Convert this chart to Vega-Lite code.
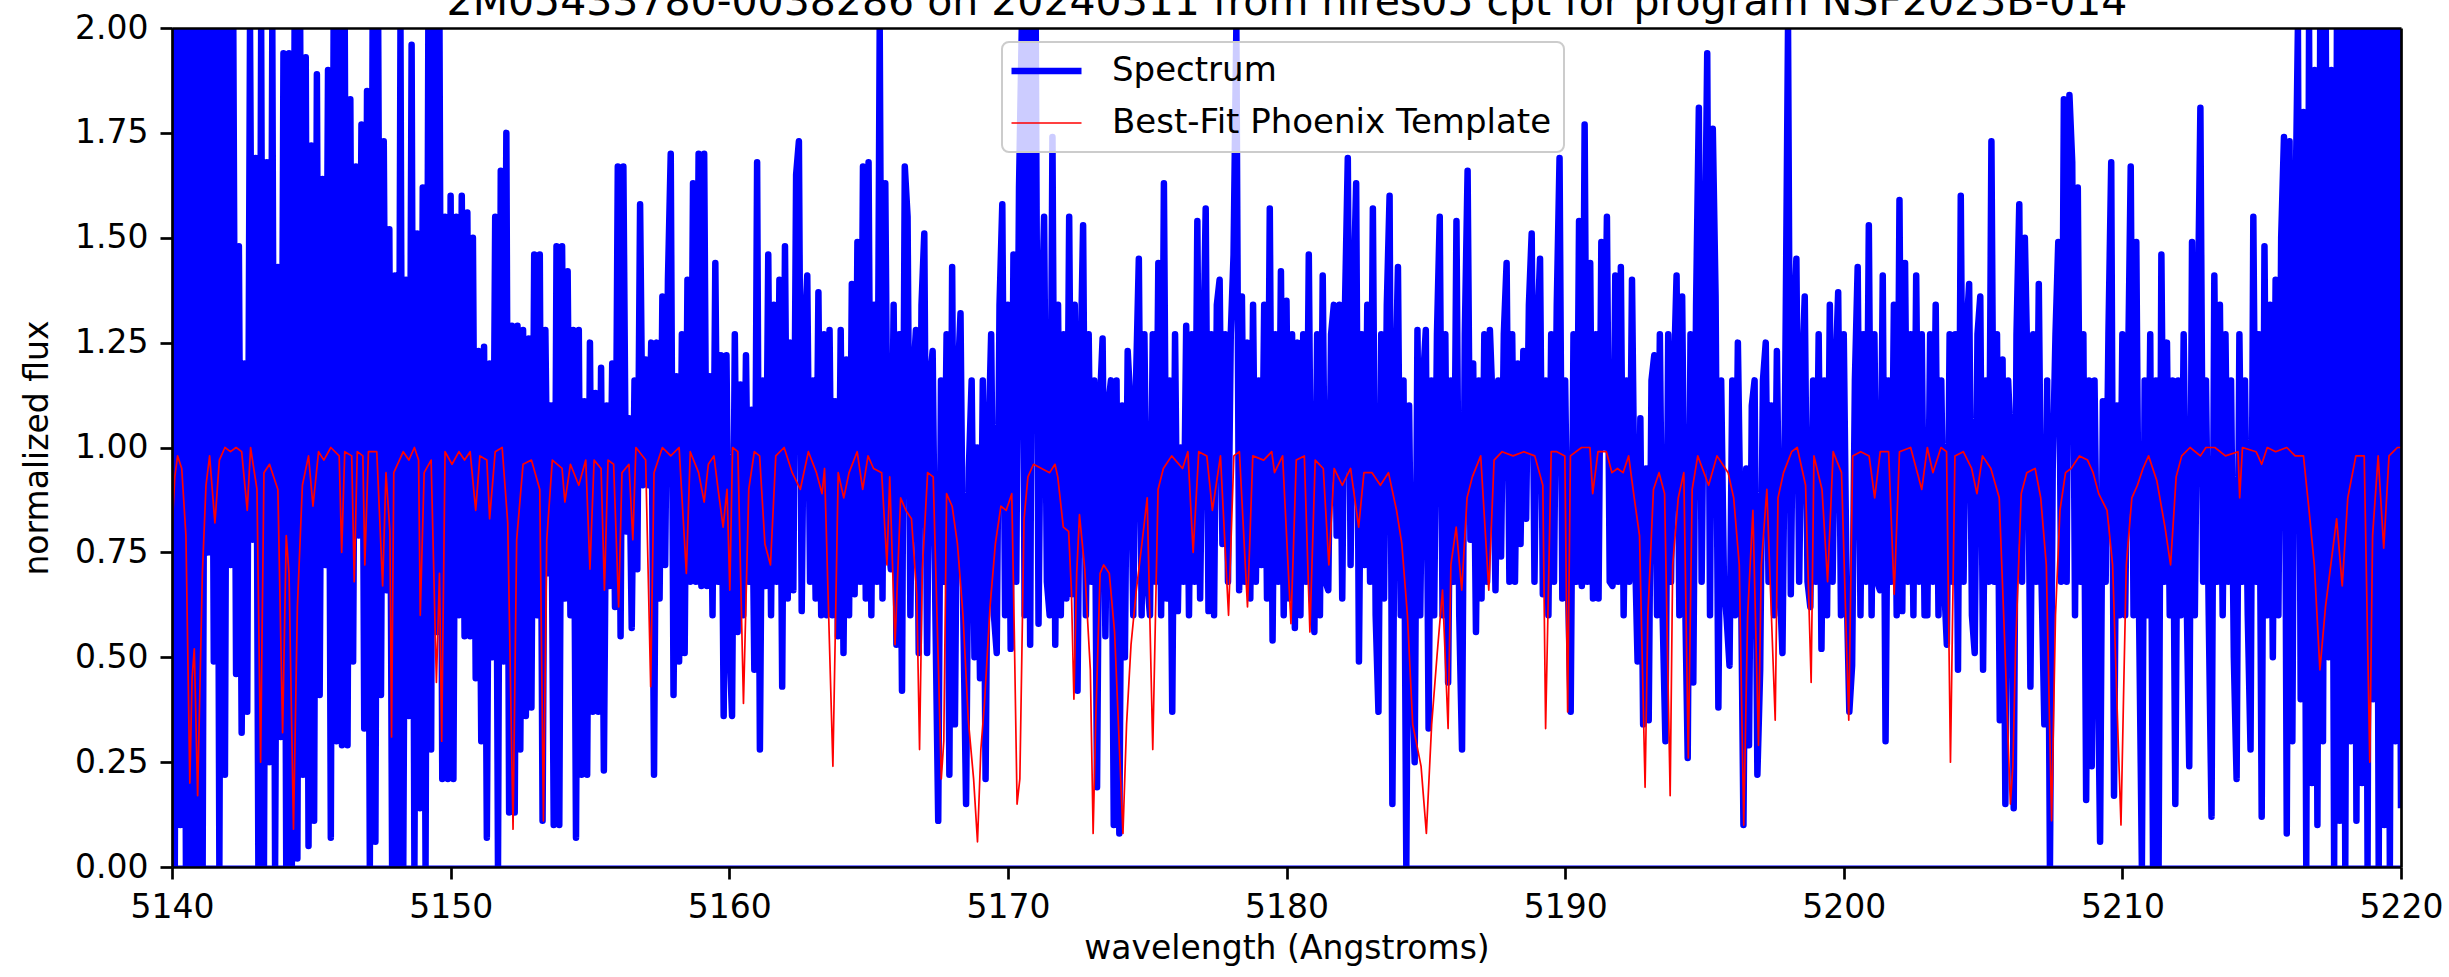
{
"$schema": "https://vega.github.io/schema/vega-lite/v6.json",
"width": 2229, "height": 839,
"autosize": {"type": "none"},
"padding": {"left": 172, "top": 28, "right": 48, "bottom": 110},
"background": "white",
"config": {"font": "DejaVu Sans", "view": {"stroke": null}},
"datasets": {
"spec": [
{"w":5140.0,"f":2.4},{"w":5140.1,"f":0},{"w":5140.2,"f":2.3},{"w":5140.3,"f":0.1},{"w":5140.4,"f":2.5},{"w":5140.5,"f":0},{"w":5140.6,"f":2.2},{"w":5140.7,"f":0},{"w":5140.8,"f":2.4},{"w":5140.9,"f":0},
{"w":5141.0,"f":2.3},{"w":5141.1,"f":0},{"w":5141.2,"f":2.5},{"w":5141.3,"f":0.75},{"w":5141.4,"f":2.2},{"w":5141.5,"f":0.49},{"w":5141.6,"f":2.4},{"w":5141.7,"f":0},{"w":5141.8,"f":2.3},{"w":5141.9,"f":0.22},
{"w":5142.0,"f":2.2},{"w":5142.1,"f":0.72},{"w":5142.2,"f":2.3},{"w":5142.3,"f":0.46},{"w":5142.4,"f":1.48},{"w":5142.5,"f":0.32},{"w":5142.6,"f":1.2},{"w":5142.7,"f":0.37},{"w":5142.8,"f":2.4},{"w":5142.9,"f":0.78},
{"w":5143.0,"f":1.69},{"w":5143.1,"f":0},{"w":5143.2,"f":2.3},{"w":5143.3,"f":0},{"w":5143.4,"f":1.68},{"w":5143.5,"f":0.25},{"w":5143.6,"f":2.2},{"w":5143.7,"f":0},{"w":5143.8,"f":1.43},{"w":5143.9,"f":0.31},
{"w":5144.0,"f":1.94},{"w":5144.1,"f":0},{"w":5144.2,"f":1.94},{"w":5144.3,"f":0},{"w":5144.4,"f":2.3},{"w":5144.5,"f":0.02},{"w":5144.6,"f":2.2},{"w":5144.7,"f":0.22},{"w":5144.8,"f":1.93},{"w":5144.9,"f":0.05},
{"w":5145.0,"f":1.72},{"w":5145.1,"f":0.11},{"w":5145.2,"f":1.89},{"w":5145.3,"f":0.41},{"w":5145.4,"f":1.64},{"w":5145.5,"f":0.72},{"w":5145.6,"f":1.9},{"w":5145.7,"f":0.07},{"w":5145.8,"f":2.3},{"w":5145.9,"f":0.3},
{"w":5146.0,"f":2.2},{"w":5146.1,"f":0.29},{"w":5146.2,"f":2.4},{"w":5146.3,"f":0.29},{"w":5146.4,"f":1.83},{"w":5146.5,"f":0.49},{"w":5146.6,"f":1.67},{"w":5146.7,"f":0.79},{"w":5146.8,"f":1.77},{"w":5146.9,"f":0.33},
{"w":5147.0,"f":1.85},{"w":5147.1,"f":0},{"w":5147.2,"f":2.3},{"w":5147.3,"f":0.06},{"w":5147.4,"f":2.2},{"w":5147.5,"f":0.41},{"w":5147.6,"f":1.73},{"w":5147.7,"f":0.66},{"w":5147.8,"f":1.52},{"w":5147.9,"f":0},
{"w":5148.0,"f":1.41},{"w":5148.1,"f":0},{"w":5148.2,"f":2.3},{"w":5148.3,"f":0},{"w":5148.4,"f":1.4},{"w":5148.5,"f":0.36},{"w":5148.6,"f":1.96},{"w":5148.7,"f":0},{"w":5148.8,"f":1.51},{"w":5148.9,"f":0.14},
{"w":5149.0,"f":1.62},{"w":5149.1,"f":0},{"w":5149.2,"f":2.3},{"w":5149.3,"f":0.28},{"w":5149.4,"f":2.2},{"w":5149.5,"f":0.56},{"w":5149.6,"f":2.4},{"w":5149.7,"f":0.21},{"w":5149.8,"f":1.55},{"w":5149.9,"f":0.21},
{"w":5150.0,"f":1.6},{"w":5150.1,"f":0.21},{"w":5150.2,"f":1.55},{"w":5150.3,"f":0.6},{"w":5150.4,"f":1.6},{"w":5150.5,"f":0.55},{"w":5150.6,"f":1.56},{"w":5150.7,"f":0.55},{"w":5150.8,"f":1.5},{"w":5150.9,"f":0.45},
{"w":5151.0,"f":1.23},{"w":5151.1,"f":0.3},{"w":5151.2,"f":1.24},{"w":5151.3,"f":0.07},{"w":5151.4,"f":1.2},{"w":5151.5,"f":0.5},{"w":5151.6,"f":1.55},{"w":5151.7,"f":0},{"w":5151.8,"f":1.66},{"w":5151.9,"f":0.49},
{"w":5152.0,"f":1.75},{"w":5152.1,"f":0.13},{"w":5152.2,"f":1.29},{"w":5152.3,"f":0.13},{"w":5152.4,"f":1.29},{"w":5152.5,"f":0.28},{"w":5152.6,"f":1.28},{"w":5152.7,"f":0.36},{"w":5152.8,"f":1.26},{"w":5152.9,"f":0.38},
{"w":5153.0,"f":1.46},{"w":5153.1,"f":0.6},{"w":5153.2,"f":1.46},{"w":5153.3,"f":0.11},{"w":5153.4,"f":1.28},{"w":5153.5,"f":0.7},{"w":5153.6,"f":1.1},{"w":5153.7,"f":0.1},{"w":5153.8,"f":1.48},{"w":5153.9,"f":0.1},
{"w":5154.0,"f":1.48},{"w":5154.1,"f":0.64},{"w":5154.2,"f":1.42},{"w":5154.3,"f":0.6},{"w":5154.4,"f":1.28},{"w":5154.5,"f":0.07},{"w":5154.6,"f":1.28},{"w":5154.7,"f":0.22},{"w":5154.8,"f":1.11},{"w":5154.9,"f":0.22},
{"w":5155.0,"f":1.25},{"w":5155.1,"f":0.37},{"w":5155.2,"f":1.13},{"w":5155.3,"f":0.37},{"w":5155.4,"f":1.19},{"w":5155.5,"f":0.23},{"w":5155.6,"f":1.1},{"w":5155.7,"f":0.67},{"w":5155.8,"f":1.2},{"w":5155.9,"f":0.62},
{"w":5156.0,"f":1.67},{"w":5156.1,"f":0.55},{"w":5156.2,"f":1.67},{"w":5156.3,"f":0.8},{"w":5156.4,"f":1.07},{"w":5156.5,"f":0.57},{"w":5156.6,"f":1.16},{"w":5156.7,"f":0.71},{"w":5156.8,"f":1.58},{"w":5156.9,"f":0.91},
{"w":5157.0,"f":1.21},{"w":5157.1,"f":0.91},{"w":5157.2,"f":1.25},{"w":5157.3,"f":0.22},{"w":5157.4,"f":1.25},{"w":5157.5,"f":0.64},{"w":5157.6,"f":1.36},{"w":5157.7,"f":0.72},{"w":5157.8,"f":1.4},{"w":5157.9,"f":1.7},
{"w":5158.0,"f":0.41},{"w":5158.1,"f":1.17},{"w":5158.2,"f":0.49},{"w":5158.3,"f":1.27},{"w":5158.4,"f":0.51},{"w":5158.5,"f":1.4},{"w":5158.6,"f":0.68},{"w":5158.7,"f":1.63},{"w":5158.8,"f":0.68},{"w":5158.9,"f":1.7},
{"w":5159.0,"f":0.67},{"w":5159.1,"f":1.7},{"w":5159.2,"f":0.67},{"w":5159.3,"f":1.17},{"w":5159.4,"f":0.6},{"w":5159.5,"f":1.44},{"w":5159.6,"f":0.68},{"w":5159.7,"f":1.22},{"w":5159.8,"f":0.36},{"w":5159.9,"f":1.22},
{"w":5160.0,"f":0.55},{"w":5160.1,"f":0.36},{"w":5160.2,"f":1.27},{"w":5160.3,"f":0.56},{"w":5160.4,"f":1.15},{"w":5160.5,"f":0.6},{"w":5160.6,"f":1.22},{"w":5160.7,"f":0.68},{"w":5160.8,"f":1.09},{"w":5160.9,"f":0.47},
{"w":5161.0,"f":1.68},{"w":5161.1,"f":0.28},{"w":5161.2,"f":1.16},{"w":5161.3,"f":0.67},{"w":5161.4,"f":1.46},{"w":5161.5,"f":0.6},{"w":5161.6,"f":1.34},{"w":5161.7,"f":0.68},{"w":5161.8,"f":1.4},{"w":5161.9,"f":0.43},
{"w":5162.0,"f":1.48},{"w":5162.1,"f":0.64},{"w":5162.2,"f":1.25},{"w":5162.3,"f":0.66},{"w":5162.4,"f":1.65},{"w":5162.5,"f":1.73},{"w":5162.6,"f":0.61},{"w":5162.7,"f":1.27},{"w":5162.8,"f":1.41},{"w":5162.9,"f":0.68},
{"w":5163.0,"f":1.16},{"w":5163.1,"f":0.64},{"w":5163.2,"f":1.37},{"w":5163.3,"f":0.6},{"w":5163.4,"f":1.27},{"w":5163.5,"f":0.6},{"w":5163.6,"f":1.28},{"w":5163.7,"f":0.6},{"w":5163.8,"f":1.11},{"w":5163.9,"f":0.55},
{"w":5164.0,"f":1.28},{"w":5164.1,"f":0.51},{"w":5164.2,"f":1.21},{"w":5164.3,"f":0.6},{"w":5164.4,"f":1.39},{"w":5164.5,"f":0.65},{"w":5164.6,"f":1.49},{"w":5164.7,"f":0.68},{"w":5164.8,"f":1.67},{"w":5164.9,"f":0.64},
{"w":5165.0,"f":1.68},{"w":5165.1,"f":0.6},{"w":5165.2,"f":1.34},{"w":5165.3,"f":0.68},{"w":5165.4,"f":2.3},{"w":5165.5,"f":0.64},{"w":5165.6,"f":1.63},{"w":5165.7,"f":0.78},{"w":5165.8,"f":0.71},{"w":5165.9,"f":1.34},
{"w":5166.0,"f":0.53},{"w":5166.1,"f":1.27},{"w":5166.2,"f":0.42},{"w":5166.3,"f":1.67},{"w":5166.4,"f":1.55},{"w":5166.5,"f":0.6},{"w":5166.6,"f":1.16},{"w":5166.7,"f":1.28},{"w":5166.8,"f":0.51},{"w":5166.9,"f":1.34},
{"w":5167.0,"f":1.51},{"w":5167.1,"f":0.51},{"w":5167.2,"f":1.16},{"w":5167.3,"f":1.23},{"w":5167.4,"f":0.6},{"w":5167.5,"f":0.11},{"w":5167.6,"f":1.16},{"w":5167.7,"f":0.68},{"w":5167.8,"f":1.27},{"w":5167.9,"f":0.22},
{"w":5168.0,"f":1.43},{"w":5168.1,"f":0.34},{"w":5168.2,"f":1.16},{"w":5168.3,"f":1.32},{"w":5168.4,"f":0.6},{"w":5168.5,"f":0.15},{"w":5168.6,"f":0.95},{"w":5168.7,"f":1.16},{"w":5168.8,"f":0.5},{"w":5168.9,"f":1.0},
{"w":5169.0,"f":0.45},{"w":5169.1,"f":1.16},{"w":5169.2,"f":0.21},{"w":5169.3,"f":1.0},{"w":5169.4,"f":1.27},{"w":5169.5,"f":0.6},{"w":5169.6,"f":0.51},{"w":5169.7,"f":1.34},{"w":5169.8,"f":1.58},{"w":5169.9,"f":0.6},
{"w":5170.0,"f":1.34},{"w":5170.1,"f":0.52},{"w":5170.2,"f":1.46},{"w":5170.3,"f":0.68},{"w":5170.4,"f":1.62},{"w":5170.5,"f":2.3},{"w":5170.6,"f":0.6},{"w":5170.7,"f":2.2},{"w":5170.8,"f":0.53},{"w":5170.9,"f":2.4},
{"w":5171.0,"f":2.2},{"w":5171.1,"f":0.58},{"w":5171.2,"f":1.27},{"w":5171.3,"f":1.55},{"w":5171.4,"f":0.68},{"w":5171.5,"f":0.6},{"w":5171.6,"f":1.74},{"w":5171.7,"f":0.53},{"w":5171.8,"f":1.34},{"w":5171.9,"f":0.6},
{"w":5172.0,"f":1.27},{"w":5172.1,"f":0.64},{"w":5172.2,"f":1.55},{"w":5172.3,"f":0.65},{"w":5172.4,"f":1.34},{"w":5172.5,"f":0.42},{"w":5172.6,"f":1.16},{"w":5172.7,"f":1.53},{"w":5172.8,"f":0.6},{"w":5172.9,"f":1.27},
{"w":5173.0,"f":0.68},{"w":5173.1,"f":1.16},{"w":5173.2,"f":0.19},{"w":5173.3,"f":1.1},{"w":5173.4,"f":1.26},{"w":5173.5,"f":0.55},{"w":5173.6,"f":1.1},{"w":5173.7,"f":1.16},{"w":5173.8,"f":0.1},{"w":5173.9,"f":1.16},
{"w":5174.0,"f":0.08},{"w":5174.1,"f":1.1},{"w":5174.2,"f":0.5},{"w":5174.3,"f":1.23},{"w":5174.4,"f":1.1},{"w":5174.5,"f":0.6},{"w":5174.6,"f":1.16},{"w":5174.7,"f":1.45},{"w":5174.8,"f":0.6},{"w":5174.9,"f":1.27},
{"w":5175.0,"f":0.68},{"w":5175.1,"f":0.6},{"w":5175.2,"f":1.27},{"w":5175.3,"f":0.68},{"w":5175.4,"f":1.44},{"w":5175.5,"f":0.6},{"w":5175.6,"f":1.63},{"w":5175.7,"f":0.64},{"w":5175.8,"f":1.16},{"w":5175.9,"f":0.37},
{"w":5176.0,"f":1.27},{"w":5176.1,"f":0.61},{"w":5176.2,"f":1.0},{"w":5176.3,"f":0.68},{"w":5176.4,"f":1.29},{"w":5176.5,"f":0.6},{"w":5176.6,"f":1.27},{"w":5176.7,"f":0.68},{"w":5176.8,"f":1.54},{"w":5176.9,"f":0.64},
{"w":5177.0,"f":1.16},{"w":5177.1,"f":1.57},{"w":5177.2,"f":0.61},{"w":5177.3,"f":1.27},{"w":5177.4,"f":0.6},{"w":5177.5,"f":1.34},{"w":5177.6,"f":1.4},{"w":5177.7,"f":0.77},{"w":5177.8,"f":1.27},{"w":5177.9,"f":0.68},
{"w":5178.0,"f":1.27},{"w":5178.1,"f":1.46},{"w":5178.2,"f":2.3},{"w":5178.3,"f":0.66},{"w":5178.4,"f":1.36},{"w":5178.5,"f":0.68},{"w":5178.6,"f":1.25},{"w":5178.7,"f":0.64},{"w":5178.8,"f":1.34},{"w":5178.9,"f":0.68},
{"w":5179.0,"f":1.16},{"w":5179.1,"f":0.72},{"w":5179.2,"f":1.34},{"w":5179.3,"f":0.64},{"w":5179.4,"f":1.57},{"w":5179.5,"f":0.54},{"w":5179.6,"f":1.27},{"w":5179.7,"f":0.68},{"w":5179.8,"f":1.42},{"w":5179.9,"f":0.6},
{"w":5180.0,"f":1.35},{"w":5180.1,"f":0.64},{"w":5180.2,"f":1.27},{"w":5180.3,"f":0.57},{"w":5180.4,"f":1.25},{"w":5180.5,"f":0.6},{"w":5180.6,"f":1.27},{"w":5180.7,"f":0.68},{"w":5180.8,"f":1.46},{"w":5180.9,"f":0.65},
{"w":5181.0,"f":0.56},{"w":5181.1,"f":1.27},{"w":5181.2,"f":0.6},{"w":5181.3,"f":1.41},{"w":5181.4,"f":0.68},{"w":5181.5,"f":0.66},{"w":5181.6,"f":1.27},{"w":5181.7,"f":1.34},{"w":5181.8,"f":0.79},{"w":5181.9,"f":1.34},
{"w":5182.0,"f":0.64},{"w":5182.1,"f":1.34},{"w":5182.2,"f":1.69},{"w":5182.3,"f":0.72},{"w":5182.4,"f":1.34},{"w":5182.5,"f":1.63},{"w":5182.6,"f":0.49},{"w":5182.7,"f":1.27},{"w":5182.8,"f":0.72},{"w":5182.9,"f":1.34},
{"w":5183.0,"f":0.68},{"w":5183.1,"f":1.57},{"w":5183.2,"f":0.6},{"w":5183.3,"f":0.37},{"w":5183.4,"f":1.27},{"w":5183.5,"f":0.64},{"w":5183.6,"f":1.34},{"w":5183.7,"f":1.6},{"w":5183.8,"f":0.15},{"w":5183.9,"f":1.1},
{"w":5184.0,"f":1.43},{"w":5184.1,"f":0.6},{"w":5184.2,"f":1.16},{"w":5184.3,"f":0},{"w":5184.4,"f":1.1},{"w":5184.5,"f":0.5},{"w":5184.6,"f":0.25},{"w":5184.7,"f":1.28},{"w":5184.8,"f":0.6},{"w":5184.9,"f":1.16},
{"w":5185.0,"f":1.28},{"w":5185.1,"f":0.33},{"w":5185.2,"f":1.16},{"w":5185.3,"f":0.6},{"w":5185.4,"f":1.27},{"w":5185.5,"f":1.55},{"w":5185.6,"f":0.6},{"w":5185.7,"f":1.27},{"w":5185.8,"f":0.44},{"w":5185.9,"f":1.16},
{"w":5186.0,"f":0.68},{"w":5186.1,"f":1.54},{"w":5186.2,"f":0.6},{"w":5186.3,"f":0.28},{"w":5186.4,"f":1.27},{"w":5186.5,"f":1.66},{"w":5186.6,"f":0.78},{"w":5186.7,"f":1.2},{"w":5186.8,"f":0.56},{"w":5186.9,"f":1.16},
{"w":5187.0,"f":0.64},{"w":5187.1,"f":1.27},{"w":5187.2,"f":0.68},{"w":5187.3,"f":1.28},{"w":5187.4,"f":1.1},{"w":5187.5,"f":0.66},{"w":5187.6,"f":1.16},{"w":5187.7,"f":0.74},{"w":5187.8,"f":1.27},{"w":5187.9,"f":1.44},
{"w":5188.0,"f":0.68},{"w":5188.1,"f":1.27},{"w":5188.2,"f":0.68},{"w":5188.3,"f":1.2},{"w":5188.4,"f":0.77},{"w":5188.5,"f":1.23},{"w":5188.6,"f":0.83},{"w":5188.7,"f":1.34},{"w":5188.8,"f":1.51},{"w":5188.9,"f":0.68},
{"w":5189.0,"f":1.27},{"w":5189.1,"f":1.45},{"w":5189.2,"f":0.65},{"w":5189.3,"f":1.16},{"w":5189.4,"f":0.6},{"w":5189.5,"f":1.27},{"w":5189.6,"f":0.68},{"w":5189.7,"f":1.34},{"w":5189.8,"f":1.69},{"w":5189.9,"f":0.64},
{"w":5190.0,"f":1.16},{"w":5190.1,"f":0.68},{"w":5190.2,"f":0.37},{"w":5190.3,"f":1.27},{"w":5190.4,"f":0.68},{"w":5190.5,"f":1.54},{"w":5190.6,"f":0.67},{"w":5190.7,"f":1.77},{"w":5190.8,"f":0.68},{"w":5190.9,"f":1.44},
{"w":5191.0,"f":0.64},{"w":5191.1,"f":1.27},{"w":5191.2,"f":0.64},{"w":5191.3,"f":1.49},{"w":5191.4,"f":1.0},{"w":5191.5,"f":1.55},{"w":5191.6,"f":0.68},{"w":5191.7,"f":0.67},{"w":5191.8,"f":1.41},{"w":5191.9,"f":0.68},
{"w":5192.0,"f":1.43},{"w":5192.1,"f":0.6},{"w":5192.2,"f":1.16},{"w":5192.3,"f":0.68},{"w":5192.4,"f":1.4},{"w":5192.5,"f":0.78},{"w":5192.6,"f":0.49},{"w":5192.7,"f":1.07},{"w":5192.8,"f":0.34},{"w":5192.9,"f":0.95},
{"w":5193.0,"f":0.35},{"w":5193.1,"f":1.16},{"w":5193.2,"f":1.22},{"w":5193.3,"f":0.6},{"w":5193.4,"f":1.27},{"w":5193.5,"f":0.6},{"w":5193.6,"f":0.3},{"w":5193.7,"f":1.27},{"w":5193.8,"f":0.68},{"w":5193.9,"f":1.16},
{"w":5194.0,"f":1.41},{"w":5194.1,"f":0.6},{"w":5194.2,"f":1.36},{"w":5194.3,"f":0.68},{"w":5194.4,"f":0.26},{"w":5194.5,"f":1.27},{"w":5194.6,"f":0.44},{"w":5194.7,"f":1.34},{"w":5194.8,"f":1.81},{"w":5194.9,"f":0.68},
{"w":5195.0,"f":1.34},{"w":5195.1,"f":1.94},{"w":5195.2,"f":0.6},{"w":5195.3,"f":1.76},{"w":5195.4,"f":1.36},{"w":5195.5,"f":0.38},{"w":5195.6,"f":1.16},{"w":5195.7,"f":0.68},{"w":5195.8,"f":0.59},{"w":5195.9,"f":0.48},
{"w":5196.0,"f":1.16},{"w":5196.1,"f":0.6},{"w":5196.2,"f":1.25},{"w":5196.3,"f":0.78},{"w":5196.4,"f":0.1},{"w":5196.5,"f":0.95},{"w":5196.6,"f":0.29},{"w":5196.7,"f":1.1},{"w":5196.8,"f":1.16},{"w":5196.9,"f":0.22},
{"w":5197.0,"f":0.47},{"w":5197.1,"f":1.16},{"w":5197.2,"f":1.25},{"w":5197.3,"f":0.68},{"w":5197.4,"f":1.1},{"w":5197.5,"f":0.6},{"w":5197.6,"f":1.23},{"w":5197.7,"f":0.68},{"w":5197.8,"f":0.51},{"w":5197.9,"f":1.16},
{"w":5198.0,"f":2.3},{"w":5198.1,"f":0.65},{"w":5198.2,"f":1.27},{"w":5198.3,"f":1.45},{"w":5198.4,"f":0.68},{"w":5198.5,"f":1.16},{"w":5198.6,"f":1.36},{"w":5198.7,"f":0.68},{"w":5198.8,"f":0.62},{"w":5198.9,"f":1.16},
{"w":5199.0,"f":0.68},{"w":5199.1,"f":1.27},{"w":5199.2,"f":0.52},{"w":5199.3,"f":1.16},{"w":5199.4,"f":0.6},{"w":5199.5,"f":1.34},{"w":5199.6,"f":0.68},{"w":5199.7,"f":1.16},{"w":5199.8,"f":1.37},{"w":5199.9,"f":0.6},
{"w":5200.0,"f":1.27},{"w":5200.1,"f":0.68},{"w":5200.2,"f":0.37},{"w":5200.3,"f":0.48},{"w":5200.4,"f":1.16},{"w":5200.5,"f":1.43},{"w":5200.6,"f":0.6},{"w":5200.7,"f":1.27},{"w":5200.8,"f":0.68},{"w":5200.9,"f":1.53},
{"w":5201.0,"f":0.6},{"w":5201.1,"f":1.27},{"w":5201.2,"f":0.68},{"w":5201.3,"f":0.66},{"w":5201.4,"f":1.41},{"w":5201.5,"f":0.3},{"w":5201.6,"f":1.16},{"w":5201.7,"f":0.68},{"w":5201.8,"f":1.34},{"w":5201.9,"f":0.6},
{"w":5202.0,"f":1.59},{"w":5202.1,"f":0.61},{"w":5202.2,"f":1.44},{"w":5202.3,"f":0.68},{"w":5202.4,"f":1.27},{"w":5202.5,"f":0.6},{"w":5202.6,"f":1.41},{"w":5202.7,"f":0.68},{"w":5202.8,"f":1.27},{"w":5202.9,"f":0.6},
{"w":5203.0,"f":0.6},{"w":5203.1,"f":1.27},{"w":5203.2,"f":0.68},{"w":5203.3,"f":1.34},{"w":5203.4,"f":0.6},{"w":5203.5,"f":1.16},{"w":5203.6,"f":0.68},{"w":5203.7,"f":0.53},{"w":5203.8,"f":1.27},{"w":5203.9,"f":0.68},
{"w":5204.0,"f":1.27},{"w":5204.1,"f":0.47},{"w":5204.2,"f":1.6},{"w":5204.3,"f":0.68},{"w":5204.4,"f":1.27},{"w":5204.5,"f":1.39},{"w":5204.6,"f":0.6},{"w":5204.7,"f":0.51},{"w":5204.8,"f":1.27},{"w":5204.9,"f":1.36},
{"w":5205.0,"f":0.47},{"w":5205.1,"f":1.16},{"w":5205.2,"f":0.68},{"w":5205.3,"f":1.73},{"w":5205.4,"f":0.68},{"w":5205.5,"f":1.27},{"w":5205.6,"f":0.35},{"w":5205.7,"f":1.21},{"w":5205.8,"f":0.15},{"w":5205.9,"f":1.16},
{"w":5206.0,"f":1.0},{"w":5206.1,"f":0.14},{"w":5206.2,"f":1.27},{"w":5206.3,"f":1.58},{"w":5206.4,"f":0.68},{"w":5206.5,"f":1.5},{"w":5206.6,"f":1.16},{"w":5206.7,"f":0.43},{"w":5206.8,"f":1.27},{"w":5206.9,"f":0.68},
{"w":5207.0,"f":1.39},{"w":5207.1,"f":0.68},{"w":5207.2,"f":0.34},{"w":5207.3,"f":1.16},{"w":5207.4,"f":0},{"w":5207.5,"f":0.95},{"w":5207.6,"f":1.27},{"w":5207.7,"f":1.49},{"w":5207.8,"f":0.68},{"w":5207.9,"f":1.83},
{"w":5208.0,"f":0.68},{"w":5208.1,"f":1.84},{"w":5208.2,"f":1.68},{"w":5208.3,"f":0.6},{"w":5208.4,"f":1.62},{"w":5208.5,"f":0.68},{"w":5208.6,"f":1.27},{"w":5208.7,"f":0.16},{"w":5208.8,"f":1.16},{"w":5208.9,"f":0.24},
{"w":5209.0,"f":1.16},{"w":5209.1,"f":0.6},{"w":5209.2,"f":0.06},{"w":5209.3,"f":1.11},{"w":5209.4,"f":0.68},{"w":5209.5,"f":1.27},{"w":5209.6,"f":1.68},{"w":5209.7,"f":0.17},{"w":5209.8,"f":1.1},{"w":5209.9,"f":0.6},
{"w":5210.0,"f":1.27},{"w":5210.1,"f":0.6},{"w":5210.2,"f":1.16},{"w":5210.3,"f":1.67},{"w":5210.4,"f":0.6},{"w":5210.5,"f":1.49},{"w":5210.6,"f":0.6},{"w":5210.7,"f":0},{"w":5210.8,"f":1.16},{"w":5210.9,"f":0.6},
{"w":5211.0,"f":1.27},{"w":5211.1,"f":0},{"w":5211.2,"f":1.16},{"w":5211.3,"f":0},{"w":5211.4,"f":1.46},{"w":5211.5,"f":0.68},{"w":5211.6,"f":1.25},{"w":5211.7,"f":0.6},{"w":5211.8,"f":1.16},{"w":5211.9,"f":0.15},
{"w":5212.0,"f":1.16},{"w":5212.1,"f":0.6},{"w":5212.2,"f":1.27},{"w":5212.3,"f":0.68},{"w":5212.4,"f":0.24},{"w":5212.5,"f":1.49},{"w":5212.6,"f":0.6},{"w":5212.7,"f":1.27},{"w":5212.8,"f":1.81},{"w":5212.9,"f":0.68},
{"w":5213.0,"f":1.16},{"w":5213.1,"f":0.6},{"w":5213.2,"f":0.12},{"w":5213.3,"f":1.41},{"w":5213.4,"f":0.68},{"w":5213.5,"f":1.34},{"w":5213.6,"f":0.6},{"w":5213.7,"f":1.27},{"w":5213.8,"f":0.68},{"w":5213.9,"f":1.16},
{"w":5214.0,"f":0.5},{"w":5214.1,"f":0.21},{"w":5214.2,"f":1.27},{"w":5214.3,"f":0.68},{"w":5214.4,"f":1.16},{"w":5214.5,"f":0.6},{"w":5214.6,"f":0.28},{"w":5214.7,"f":1.55},{"w":5214.8,"f":0.68},{"w":5214.9,"f":1.27},
{"w":5215.0,"f":0.12},{"w":5215.1,"f":1.48},{"w":5215.2,"f":0.6},{"w":5215.3,"f":1.34},{"w":5215.4,"f":0.5},{"w":5215.5,"f":1.4},{"w":5215.6,"f":0.6},{"w":5215.7,"f":1.5},{"w":5215.8,"f":1.74},{"w":5215.9,"f":0.08},
{"w":5216.0,"f":1.73},{"w":5216.1,"f":0.3},{"w":5216.2,"f":1.5},{"w":5216.3,"f":2.3},{"w":5216.4,"f":0.4},{"w":5216.5,"f":1.8},{"w":5216.6,"f":0},{"w":5216.7,"f":2.4},{"w":5216.8,"f":0.2},{"w":5216.9,"f":1.9},
{"w":5217.0,"f":0.1},{"w":5217.1,"f":2.2},{"w":5217.2,"f":0.3},{"w":5217.3,"f":2.3},{"w":5217.4,"f":0.5},{"w":5217.5,"f":1.9},{"w":5217.6,"f":0},{"w":5217.7,"f":2.4},{"w":5217.8,"f":0.11},{"w":5217.9,"f":2.2},
{"w":5218.0,"f":0},{"w":5218.1,"f":2.3},{"w":5218.2,"f":0.3},{"w":5218.3,"f":2.1},{"w":5218.4,"f":0.11},{"w":5218.5,"f":2.4},{"w":5218.6,"f":0.2},{"w":5218.7,"f":2.2},{"w":5218.8,"f":0},{"w":5218.9,"f":2.3},
{"w":5219.0,"f":0.4},{"w":5219.1,"f":2.2},{"w":5219.2,"f":0},{"w":5219.3,"f":2.3},{"w":5219.4,"f":0.1},{"w":5219.5,"f":2.4},{"w":5219.6,"f":0},{"w":5219.7,"f":2.2},{"w":5219.8,"f":0.3},{"w":5219.9,"f":2.1},
{"w":5220.0,"f":0.14}
],
"tmpl": [
{"w":5140.00,"f":0.80},{"w":5140.10,"f":0.93},{"w":5140.20,"f":0.98},{"w":5140.35,"f":0.95},{"w":5140.50,"f":0.79},{"w":5140.64,"f":0.20},{"w":5140.72,"f":0.45},{"w":5140.80,"f":0.52},{"w":5140.92,"f":0.17},{"w":5141.09,"f":0.70},
{"w":5141.22,"f":0.91},{"w":5141.35,"f":0.98},{"w":5141.54,"f":0.82},{"w":5141.70,"f":0.97},{"w":5141.90,"f":1.00},{"w":5142.10,"f":0.99},{"w":5142.30,"f":1.00},{"w":5142.50,"f":0.99},{"w":5142.70,"f":0.85},{"w":5142.82,"f":1.00},
{"w":5143.05,"f":0.90},{"w":5143.18,"f":0.25},{"w":5143.30,"f":0.94},{"w":5143.50,"f":0.96},{"w":5143.80,"f":0.90},{"w":5143.97,"f":0.32},{"w":5144.10,"f":0.79},{"w":5144.20,"f":0.70},{"w":5144.36,"f":0.09},{"w":5144.50,"f":0.62},
{"w":5144.68,"f":0.91},{"w":5144.90,"f":0.98},{"w":5145.06,"f":0.86},{"w":5145.26,"f":0.99},{"w":5145.45,"f":0.97},{"w":5145.70,"f":1.00},{"w":5146.00,"f":0.98},{"w":5146.09,"f":0.75},{"w":5146.20,"f":0.99},{"w":5146.45,"f":0.98},
{"w":5146.54,"f":0.68},{"w":5146.65,"f":0.99},{"w":5146.85,"f":0.98},{"w":5146.92,"f":0.72},{"w":5147.05,"f":0.99},{"w":5147.35,"f":0.99},{"w":5147.56,"f":0.67},{"w":5147.68,"f":0.94},{"w":5147.82,"f":0.80},{"w":5147.88,"f":0.31},
{"w":5147.96,"f":0.94},{"w":5148.30,"f":0.99},{"w":5148.50,"f":0.97},{"w":5148.70,"f":1.00},{"w":5148.85,"f":0.97},{"w":5148.91,"f":0.60},{"w":5149.05,"f":0.94},{"w":5149.30,"f":0.97},{"w":5149.49,"f":0.44},{"w":5149.60,"f":0.70},
{"w":5149.68,"f":0.30},{"w":5149.80,"f":0.99},{"w":5150.05,"f":0.96},{"w":5150.30,"f":0.99},{"w":5150.50,"f":0.97},{"w":5150.70,"f":0.99},{"w":5150.90,"f":0.85},{"w":5151.05,"f":0.98},{"w":5151.30,"f":0.97},{"w":5151.40,"f":0.83},
{"w":5151.60,"f":0.99},{"w":5151.85,"f":1.00},{"w":5152.05,"f":0.82},{"w":5152.24,"f":0.09},{"w":5152.37,"f":0.78},{"w":5152.60,"f":0.96},{"w":5152.90,"f":0.97},{"w":5153.20,"f":0.90},{"w":5153.33,"f":0.11},{"w":5153.45,"f":0.78},
{"w":5153.65,"f":0.97},{"w":5154.00,"f":0.95},{"w":5154.10,"f":0.87},{"w":5154.30,"f":0.96},{"w":5154.60,"f":0.91},{"w":5154.85,"f":0.97},{"w":5155.00,"f":0.71},{"w":5155.15,"f":0.97},{"w":5155.40,"f":0.95},{"w":5155.52,"f":0.66},
{"w":5155.65,"f":0.97},{"w":5155.85,"f":0.96},{"w":5156.03,"f":0.62},{"w":5156.15,"f":0.94},{"w":5156.40,"f":0.96},{"w":5156.54,"f":0.78},{"w":5156.65,"f":1.00},{"w":5157.00,"f":0.97},{"w":5157.18,"f":0.43},{"w":5157.30,"f":0.94},
{"w":5157.60,"f":1.00},{"w":5157.90,"f":0.98},{"w":5158.20,"f":1.00},{"w":5158.46,"f":0.70},{"w":5158.60,"f":0.99},{"w":5158.90,"f":0.94},{"w":5159.10,"f":0.87},{"w":5159.25,"f":0.96},{"w":5159.45,"f":0.98},{"w":5159.60,"f":0.90},
{"w":5159.78,"f":0.81},{"w":5159.92,"f":0.90},{"w":5160.02,"f":0.66},{"w":5160.12,"f":1.00},{"w":5160.31,"f":0.99},{"w":5160.51,"f":0.39},{"w":5160.70,"f":0.90},{"w":5160.90,"f":0.99},{"w":5161.09,"f":0.98},{"w":5161.28,"f":0.77},
{"w":5161.48,"f":0.72},{"w":5161.67,"f":0.98},{"w":5161.97,"f":1.00},{"w":5162.26,"f":0.94},{"w":5162.55,"f":0.90},{"w":5162.84,"f":0.99},{"w":5163.13,"f":0.94},{"w":5163.33,"f":0.89},{"w":5163.42,"f":0.95},{"w":5163.72,"f":0.24},
{"w":5163.91,"f":0.94},{"w":5164.11,"f":0.88},{"w":5164.30,"f":0.94},{"w":5164.59,"f":0.99},{"w":5164.79,"f":0.90},{"w":5164.98,"f":0.98},{"w":5165.18,"f":0.95},{"w":5165.47,"f":0.94},{"w":5165.66,"f":0.72},{"w":5165.76,"f":0.93},
{"w":5165.95,"f":0.53},{"w":5166.15,"f":0.88},{"w":5166.34,"f":0.85},{"w":5166.54,"f":0.83},{"w":5166.73,"f":0.65},{"w":5166.83,"f":0.28},{"w":5166.93,"f":0.71},{"w":5167.12,"f":0.94},{"w":5167.32,"f":0.93},{"w":5167.51,"f":0.47},
{"w":5167.61,"f":0.21},{"w":5167.70,"f":0.30},{"w":5167.80,"f":0.89},{"w":5168.00,"f":0.86},{"w":5168.19,"f":0.77},{"w":5168.39,"f":0.60},{"w":5168.58,"f":0.35},{"w":5168.77,"f":0.21},{"w":5168.91,"f":0.06},{"w":5169.03,"f":0.28},
{"w":5169.16,"f":0.39},{"w":5169.36,"f":0.62},{"w":5169.55,"f":0.77},{"w":5169.75,"f":0.86},{"w":5169.94,"f":0.85},{"w":5170.14,"f":0.89},{"w":5170.23,"f":0.56},{"w":5170.33,"f":0.15},{"w":5170.43,"f":0.21},{"w":5170.58,"f":0.83},
{"w":5170.72,"f":0.93},{"w":5170.92,"f":0.96},{"w":5171.21,"f":0.95},{"w":5171.50,"f":0.94},{"w":5171.69,"f":0.96},{"w":5171.79,"f":0.93},{"w":5171.99,"f":0.81},{"w":5172.18,"f":0.80},{"w":5172.28,"f":0.66},{"w":5172.37,"f":0.40},
{"w":5172.47,"f":0.70},{"w":5172.57,"f":0.84},{"w":5172.76,"f":0.71},{"w":5172.96,"f":0.47},{"w":5173.06,"f":0.08},{"w":5173.15,"f":0.34},{"w":5173.31,"f":0.70},{"w":5173.44,"f":0.72},{"w":5173.64,"f":0.70},{"w":5173.83,"f":0.56},
{"w":5174.03,"f":0.24},{"w":5174.13,"f":0.08},{"w":5174.26,"f":0.34},{"w":5174.42,"f":0.53},{"w":5174.61,"f":0.66},{"w":5174.81,"f":0.77},{"w":5175.00,"f":0.88},{"w":5175.20,"f":0.28},{"w":5175.39,"f":0.90},{"w":5175.58,"f":0.95},
{"w":5175.88,"f":0.98},{"w":5176.27,"f":0.95},{"w":5176.46,"f":0.99},{"w":5176.65,"f":0.75},{"w":5176.85,"f":0.99},{"w":5177.14,"f":0.98},{"w":5177.34,"f":0.85},{"w":5177.63,"f":0.98},{"w":5177.92,"f":0.60},{"w":5178.11,"f":0.98},
{"w":5178.31,"f":0.99},{"w":5178.60,"f":0.62},{"w":5178.79,"f":0.98},{"w":5179.18,"f":0.97},{"w":5179.47,"f":0.99},{"w":5179.57,"f":0.94},{"w":5179.86,"f":0.98},{"w":5180.16,"f":0.58},{"w":5180.35,"f":0.97},{"w":5180.64,"f":0.98},
{"w":5180.84,"f":0.56},{"w":5181.03,"f":0.97},{"w":5181.32,"f":0.95},{"w":5181.52,"f":0.72},{"w":5181.71,"f":0.95},{"w":5182.00,"f":0.91},{"w":5182.30,"f":0.95},{"w":5182.59,"f":0.81},{"w":5182.78,"f":0.94},{"w":5183.07,"f":0.94},
{"w":5183.37,"f":0.91},{"w":5183.66,"f":0.94},{"w":5183.95,"f":0.85},{"w":5184.14,"f":0.77},{"w":5184.34,"f":0.60},{"w":5184.53,"f":0.34},{"w":5184.83,"f":0.24},{"w":5185.02,"f":0.08},{"w":5185.21,"f":0.34},{"w":5185.41,"f":0.51},
{"w":5185.60,"f":0.66},{"w":5185.80,"f":0.33},{"w":5185.90,"f":0.72},{"w":5186.09,"f":0.81},{"w":5186.29,"f":0.66},{"w":5186.48,"f":0.88},{"w":5186.67,"f":0.93},{"w":5186.97,"f":0.98},{"w":5187.26,"f":0.66},{"w":5187.45,"f":0.97},
{"w":5187.74,"f":0.99},{"w":5188.13,"f":0.98},{"w":5188.52,"f":0.99},{"w":5188.91,"f":0.98},{"w":5189.20,"f":0.91},{"w":5189.30,"f":0.33},{"w":5189.50,"f":0.99},{"w":5189.70,"f":0.99},{"w":5189.99,"f":0.98},{"w":5190.09,"f":0.37},
{"w":5190.19,"f":0.98},{"w":5190.59,"f":1.00},{"w":5190.89,"f":1.00},{"w":5190.99,"f":0.89},{"w":5191.18,"f":0.99},{"w":5191.48,"f":0.99},{"w":5191.68,"f":0.94},{"w":5191.88,"f":0.95},{"w":5192.08,"f":0.94},{"w":5192.28,"f":0.98},
{"w":5192.48,"f":0.88},{"w":5192.67,"f":0.79},{"w":5192.87,"f":0.19},{"w":5192.97,"f":0.60},{"w":5193.17,"f":0.90},{"w":5193.37,"f":0.94},{"w":5193.57,"f":0.89},{"w":5193.77,"f":0.17},{"w":5193.86,"f":0.72},{"w":5194.06,"f":0.88},
{"w":5194.26,"f":0.94},{"w":5194.42,"f":0.26},{"w":5194.56,"f":0.90},{"w":5194.76,"f":0.98},{"w":5195.15,"f":0.91},{"w":5195.45,"f":0.98},{"w":5195.85,"f":0.94},{"w":5196.05,"f":0.88},{"w":5196.25,"f":0.72},{"w":5196.41,"f":0.10},
{"w":5196.55,"f":0.60},{"w":5196.74,"f":0.85},{"w":5196.94,"f":0.29},{"w":5197.04,"f":0.72},{"w":5197.24,"f":0.90},{"w":5197.54,"f":0.35},{"w":5197.64,"f":0.88},{"w":5197.84,"f":0.94},{"w":5198.13,"f":0.99},{"w":5198.33,"f":1.00},
{"w":5198.63,"f":0.91},{"w":5198.83,"f":0.44},{"w":5198.93,"f":0.98},{"w":5199.22,"f":0.90},{"w":5199.42,"f":0.68},{"w":5199.62,"f":0.99},{"w":5199.92,"f":0.94},{"w":5200.18,"f":0.35},{"w":5200.32,"f":0.98},{"w":5200.61,"f":0.99},
{"w":5200.91,"f":0.98},{"w":5201.11,"f":0.88},{"w":5201.31,"f":0.99},{"w":5201.61,"f":0.99},{"w":5201.81,"f":0.65},{"w":5202.00,"f":0.99},{"w":5202.40,"f":1.00},{"w":5202.80,"f":0.90},{"w":5203.00,"f":1.00},{"w":5203.20,"f":0.94},
{"w":5203.49,"f":1.00},{"w":5203.69,"f":0.99},{"w":5203.83,"f":0.25},{"w":5203.99,"f":0.98},{"w":5204.29,"f":0.99},{"w":5204.59,"f":0.95},{"w":5204.78,"f":0.89},{"w":5204.98,"f":0.98},{"w":5205.28,"f":0.95},{"w":5205.58,"f":0.88},
{"w":5205.78,"f":0.53},{"w":5205.98,"f":0.15},{"w":5206.07,"f":0.24},{"w":5206.17,"f":0.53},{"w":5206.37,"f":0.89},{"w":5206.57,"f":0.94},{"w":5206.87,"f":0.95},{"w":5207.07,"f":0.88},{"w":5207.27,"f":0.72},{"w":5207.46,"f":0.11},
{"w":5207.60,"f":0.60},{"w":5207.76,"f":0.85},{"w":5207.96,"f":0.94},{"w":5208.16,"f":0.95},{"w":5208.46,"f":0.98},{"w":5208.75,"f":0.97},{"w":5208.95,"f":0.94},{"w":5209.15,"f":0.89},{"w":5209.45,"f":0.85},{"w":5209.65,"f":0.72},
{"w":5209.85,"f":0.30},{"w":5209.95,"f":0.10},{"w":5210.04,"f":0.40},{"w":5210.14,"f":0.72},{"w":5210.34,"f":0.88},{"w":5210.54,"f":0.91},{"w":5210.74,"f":0.95},{"w":5210.94,"f":0.98},{"w":5211.24,"f":0.92},{"w":5211.53,"f":0.81},
{"w":5211.73,"f":0.72},{"w":5211.93,"f":0.93},{"w":5212.13,"f":0.98},{"w":5212.43,"f":1.00},{"w":5212.80,"f":0.98},{"w":5213.00,"f":1.00},{"w":5213.32,"f":1.00},{"w":5213.70,"f":0.98},{"w":5214.15,"f":0.99},{"w":5214.21,"f":0.88},
{"w":5214.31,"f":1.00},{"w":5214.80,"f":0.99},{"w":5215.00,"f":0.96},{"w":5215.20,"f":1.00},{"w":5215.50,"f":0.99},{"w":5215.90,"f":1.00},{"w":5216.20,"f":0.98},{"w":5216.50,"f":0.98},{"w":5216.70,"f":0.85},{"w":5216.89,"f":0.72},
{"w":5217.09,"f":0.47},{"w":5217.29,"f":0.62},{"w":5217.69,"f":0.83},{"w":5217.89,"f":0.67},{"w":5218.09,"f":0.88},{"w":5218.38,"f":0.98},{"w":5218.68,"f":0.98},{"w":5218.88,"f":0.25},{"w":5218.98,"f":0.79},{"w":5219.18,"f":0.98},
{"w":5219.38,"f":0.76},{"w":5219.57,"f":0.98},{"w":5219.87,"f":1.00},{"w":5220.00,"f":1.00}
]
},
"layer": [
{"data": {"name": "spec"},
 "mark": {"type": "line", "clip": true, "strokeWidth": 6.5, "strokeJoin": "round"},
 "encoding": {
  "x": {"field": "w", "type": "quantitative", "scale": {"domain": [5140, 5220], "nice": false, "zero": false},
   "axis": {"orient": "bottom", "values": [5140,5150,5160,5170,5180,5190,5200,5210,5220], "format": "d", "title": "wavelength (Angstroms)", "titleFont": "DejaVu Sans", "titleFontSize": 33, "titleFontWeight": "normal", "titleColor": "black", "titlePadding": 8, "labelFont": "DejaVu Sans", "labelFontSize": 33, "labelColor": "black", "labelPadding": 12, "labelFlush": false, "labelOverlap": false, "tickSize": 12, "tickWidth": 2.7, "tickColor": "black", "domainColor": "black", "domainWidth": 2.7, "grid": false, "zindex": 1}},
  "y": {"field": "f", "type": "quantitative", "scale": {"domain": [0, 2], "nice": false, "zero": false, "clamp": true},
   "axis": {"orient": "left", "values": [0,0.25,0.5,0.75,1,1.25,1.5,1.75,2], "format": ".2f", "title": "normalized flux", "titleFont": "DejaVu Sans", "titleFontSize": 33, "titleFontWeight": "normal", "titleColor": "black", "titlePadding": 20, "labelFont": "DejaVu Sans", "labelFontSize": 33, "labelColor": "black", "labelPadding": 12, "labelFlush": false, "labelOverlap": false, "tickSize": 12, "tickWidth": 2.7, "tickColor": "black", "domainColor": "black", "domainWidth": 2.7, "grid": false, "zindex": 1}},
  "color": {"datum": "Spectrum", "type": "nominal",
   "scale": {"domain": ["Spectrum", "Best-Fit Phoenix Template"], "range": ["#0000ff", "#ff0000"]},
   "legend": {"orient": "none", "legendX": 830, "legendY": 14, "title": null, "direction": "vertical", "symbolType": "stroke", "symbolSize": 4900, "symbolStrokeWidth": 6.5, "symbolOffset": 15.5, "labelFont": "DejaVu Sans", "labelFontSize": 34, "labelColor": "black", "labelOffset": 48.5, "labelLimit": 0, "padding": 12, "rowPadding": 18, "strokeColor": "#cccccc", "fillColor": "rgba(255,255,255,0.8)", "cornerRadius": 7,
    "encode": {"symbols": {"update": {"strokeWidth": {"signal": "datum.value === 'Spectrum' ? 6.5 : 1.7"}}}, "legend": {"update": {"strokeWidth": {"value": 2}}}}}}
 }},
{"data": {"name": "tmpl"},
 "mark": {"type": "line", "clip": true, "strokeWidth": 1.7, "strokeJoin": "round"},
 "encoding": {
  "x": {"field": "w", "type": "quantitative", "axis": {"orient": "top", "labels": false, "ticks": false, "title": "2M05433780-0038286 on 20240311 from hires05 cpt for program NSF2023B-014", "titleFont": "DejaVu Sans", "titleFontSize": 41, "titleFontWeight": "normal", "titleColor": "black", "titleBaseline": "alphabetic", "titleAnchor": "middle", "titleAlign": "center", "titleX": 1114.5, "titleY": -14, "domainColor": "black", "domainWidth": 2.7, "grid": false, "zindex": 1}},
  "y": {"field": "f", "type": "quantitative", "axis": {"orient": "right", "labels": false, "ticks": false, "title": null, "domainColor": "black", "domainWidth": 2.7, "grid": false, "zindex": 1}},
  "color": {"datum": "Best-Fit Phoenix Template", "type": "nominal"}
 }},
{"data": {"values": [{"z": 0}]},
 "mark": {"type": "rule", "color": "#0000ff", "strokeWidth": 3, "clip": true},
 "encoding": {"y": {"field": "z", "type": "quantitative", "axis": null}}}
],
"resolve": {"axis": {"x": "independent", "y": "independent"}}
}
